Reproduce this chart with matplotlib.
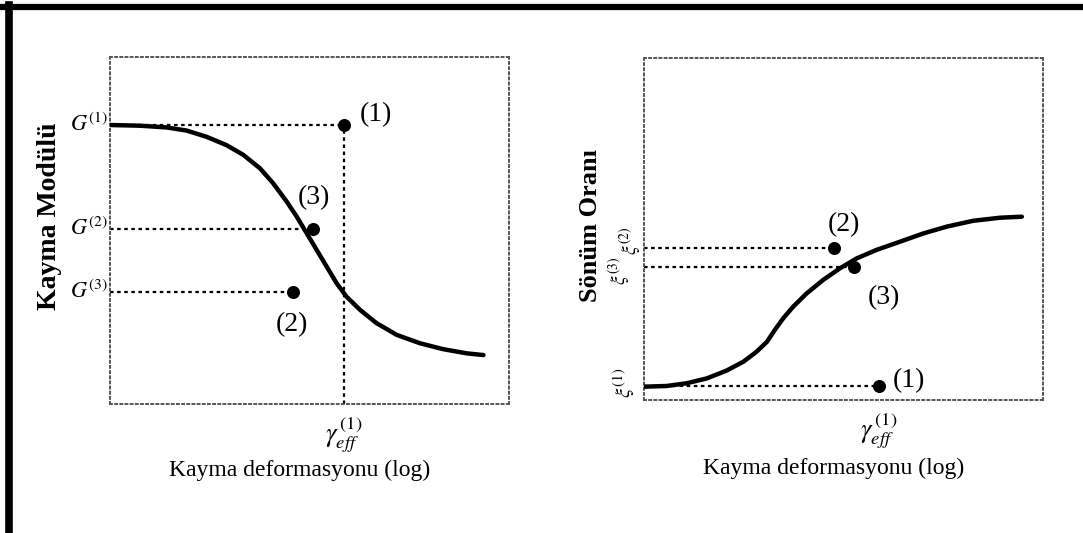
import matplotlib.pyplot as plt
from matplotlib.lines import Line2D

plt.rcParams['font.family'] = ['Liberation Serif', 'DejaVu Serif']
plt.rcParams['mathtext.fontset'] = 'stix'

# left panel: shear modulus curve (schematic, x = log strain)
g_x = [0, 7.5, 14.2, 19.2, 24.2, 29.2, 33.4, 37.6, 40.9, 44.3, 46.8, 49.3, 51.8,
       54.3, 56.8, 59.3, 62.7, 66.8, 71.9, 77.7, 83.5, 89.4, 93.6]
g_y = [80.4, 80.2, 79.7, 78.8, 77.0, 74.6, 71.8, 67.9, 63.6, 58.3, 54.0, 49.2, 44.4,
       39.6, 34.8, 30.9, 27.1, 23.3, 19.9, 17.5, 15.8, 14.6, 14.1]
g_pts_x = [58.6, 45.9, 50.9]
g_pts_y = [80.4, 32.3, 50.4]
g_pts_lbl = ['(1)', '(2)', '(3)']
g_ticks = ['$G^{(1)}$', '$G^{(2)}$', '$G^{(3)}$']

# right panel: damping ratio curve
d_x = [0.25, 5.7, 10.7, 15.7, 20.7, 24.9, 28.2, 30.8, 32.8, 34.9, 37.4, 40.8, 44.9,
       49.1, 53.3, 58.3, 64.2, 70.0, 75.9, 82.5, 89.2, 94.7]
d_y = [3.9, 4.1, 4.9, 6.3, 8.6, 11.2, 14.1, 17.0, 20.5, 23.9, 27.3, 31.2, 35.1,
       38.5, 41.4, 43.9, 46.3, 48.7, 50.7, 52.4, 53.3, 53.6]
d_pts_x = [58.9, 47.6, 52.6]
d_pts_y = [4.1, 44.4, 38.9]
d_pts_lbl = ['(1)', '(2)', '(3)']
d_ticks = [r'$\xi^{(1)}$', r'$\xi^{(2)}$', r'$\xi^{(3)}$']

gamma_lbl = r'$\gamma_{eff}^{\,(1)}$'
xlabel = 'Kayma deformasyonu (log)'

fig = plt.figure(figsize=(10.83, 5.33), dpi=100)
ax1 = fig.add_axes([110/1083, 1-404/533, 399/1083, 347/533])
ax2 = fig.add_axes([644/1083, 1-400/533, 399/1083, 342/533])

dot = (0, (1.6, 1.6))
for ax in (ax1, ax2):
    ax.set_xlim(0, 100)
    ax.set_ylim(0, 100)
    ax.set_xticks([])
    ax.set_yticks([])
    for s in ax.spines.values():
        s.set_linestyle(':')
        s.set_color('#555555')
        s.set_linewidth(1.4)

# ---- left
ax1.plot(g_x, g_y, color='black', lw=3.2, solid_capstyle='round', zorder=3)
for x, y in zip(g_pts_x, g_pts_y):
    ax1.plot([0, x], [y, y], color='black', lw=1.6, ls=dot)
ax1.plot([g_pts_x[0], g_pts_x[0]], [0, g_pts_y[0]], color='black', lw=1.6, ls=dot)
ax1.scatter(g_pts_x, g_pts_y, s=70, color='black', zorder=4)
ax1.text(g_pts_x[0] + 4, g_pts_y[0] + 3, g_pts_lbl[0], fontsize=20, va='center')
ax1.text(g_pts_x[1] - 0.3, g_pts_y[1] - 9.5, g_pts_lbl[1], fontsize=20, va='center', ha='center')
ax1.text(g_pts_x[2] + 0.3, g_pts_y[2] + 9, g_pts_lbl[2], fontsize=20, va='center', ha='center')
for t, y in zip(g_ticks, [g_pts_y[0], g_pts_y[2], g_pts_y[1]]):
    ax1.text(-0.5, y, t, fontsize=16, ha='right', va='center')
ax1.text(-15.2, 54, 'Kayma Modülü', rotation=90, fontsize=20, fontweight='bold',
         ha='center', va='center')
ax1.text(g_pts_x[0], -9, gamma_lbl, fontsize=19, ha='center', va='center')
ax1.text(47.5, -19, xlabel, fontsize=17, ha='center', va='center')

# ---- right
ax2.plot(d_x, d_y, color='black', lw=3.2, solid_capstyle='round', zorder=3)
for x, y in zip(d_pts_x, d_pts_y):
    ax2.plot([0, x], [y, y], color='black', lw=1.6, ls=dot)
ax2.scatter(d_pts_x, d_pts_y, s=70, color='black', zorder=4)
ax2.text(d_pts_x[0] + 3.5, d_pts_y[0] + 1.5, d_pts_lbl[0], fontsize=20, va='center')
ax2.text(d_pts_x[1] + 2.5, d_pts_y[1] + 7, d_pts_lbl[1], fontsize=20, va='center', ha='center')
ax2.text(d_pts_x[2] + 7.5, d_pts_y[2] - 9, d_pts_lbl[2], fontsize=20, va='center', ha='center')
ax2.text(-5, d_pts_y[0] + 1, d_ticks[0], fontsize=15, rotation=90, ha='center', va='center')
ax2.text(-3.6, d_pts_y[1] - 2, d_ticks[1], fontsize=14, rotation=90, ha='center', va='bottom')
ax2.text(-6.3, d_pts_y[2] + 3, d_ticks[2], fontsize=14, rotation=90, ha='center', va='top')
ax2.text(-13.3, 51, 'Sönüm Oranı', rotation=90, fontsize=19, fontweight='bold',
         ha='center', va='center')
ax2.text(d_pts_x[0], -9, gamma_lbl, fontsize=19, ha='center', va='center')
ax2.text(47.5, -20, xlabel, fontsize=17, ha='center', va='center')

# scan frame: thick line top and left
fig.add_artist(Line2D([0, 1], [1-7/533, 1-7/533], color='black', lw=4.5))
fig.add_artist(Line2D([9/1083, 9/1083], [0, 1-5/533], color='black', lw=5.5))

fig.savefig('out.png', dpi=100)
